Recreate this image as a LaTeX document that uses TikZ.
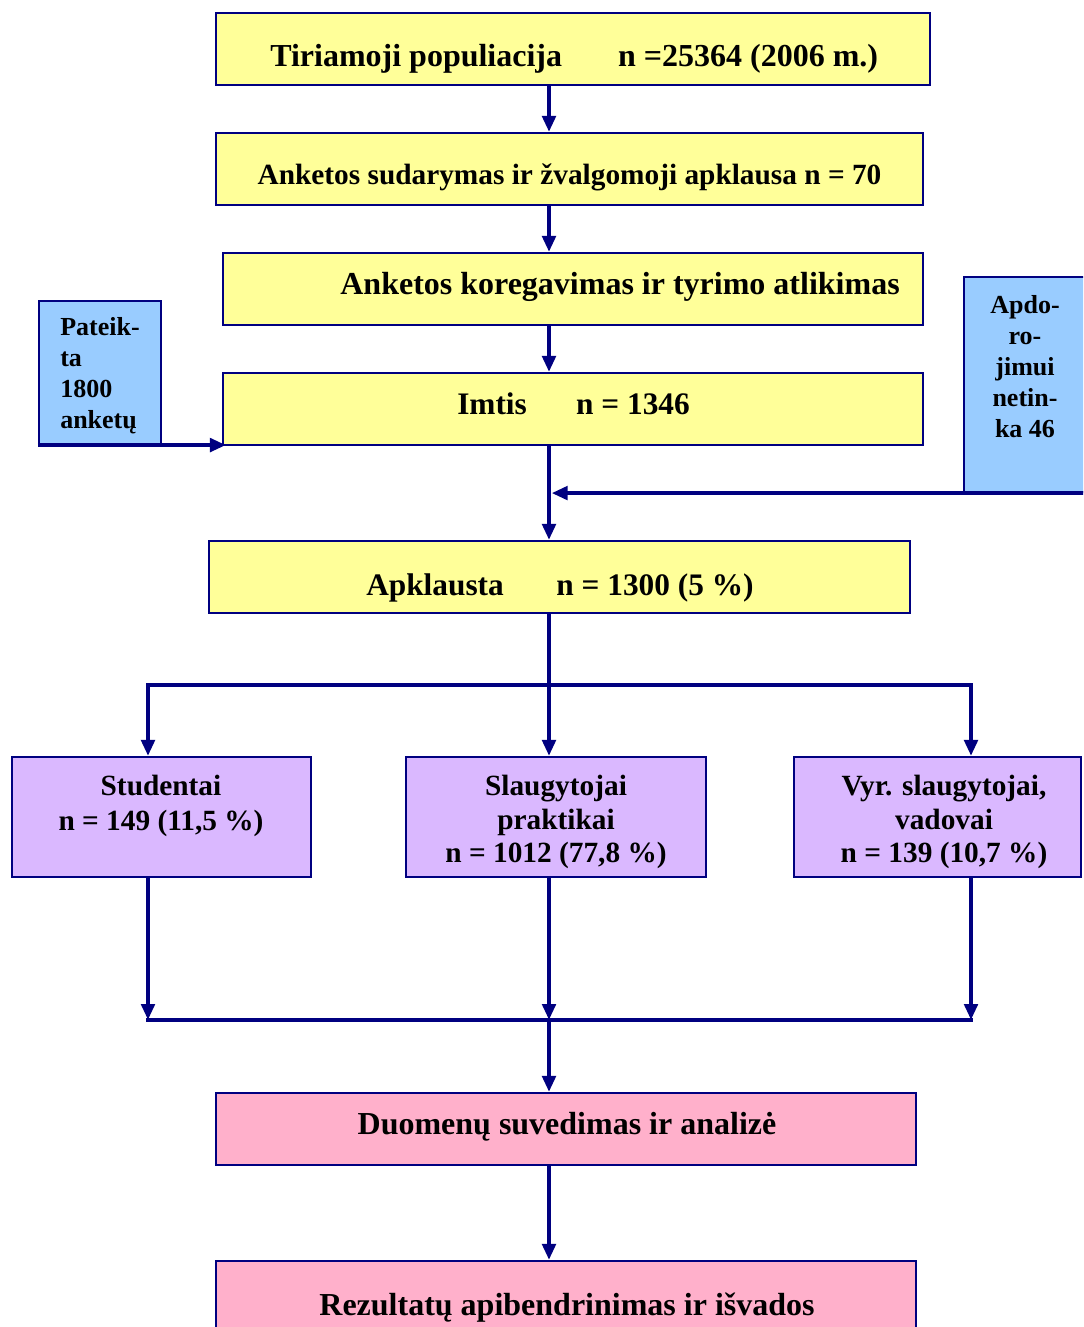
\documentclass[tikz,border=0pt]{standalone}
\usepackage{fontspec}
\setmainfont{Liberation Serif}
\usetikzlibrary{arrows.meta,fit}
\definecolor{navy}{HTML}{000080}
\definecolor{yel}{HTML}{FFFF99}
\definecolor{sky}{HTML}{99CCFF}
\definecolor{lav}{HTML}{DAB8FF}
\definecolor{rose}{HTML}{FFB0CB}
\tikzset{
  box/.style={draw=navy, line width=1.6pt, inner sep=0pt},
  ybox/.style={box, fill=yel},
  bbox/.style={box, fill=sky},
  pbox/.style={box, fill=lav},
  rbox/.style={box, fill=rose},
  conn/.style={draw=navy, line width=3pt},
  hconn/.style={conn, line cap=rect},
  arr/.style={conn, -{Triangle[length=12pt,width=10pt]}},
  txt/.style={inner sep=0pt, anchor=base, font=\bfseries\fontsize{23.5}{28}\selectfont},
  btxt/.style={txt, font=\bfseries\fontsize{24}{28}\selectfont},
  ptxt/.style={txt, font=\bfseries\fontsize{22}{26}\selectfont},
  rtxt/.style={txt, font=\bfseries\fontsize{24}{28}\selectfont},
  stxt/.style={txt, font=\bfseries\fontsize{19.5}{23}\selectfont},
}
\begin{document}
\begin{tikzpicture}[x=0.75pt,y=-0.75pt]
\useasboundingbox (0,0) rectangle (1083,1327);
\fill[white] (0,0) rectangle (1083,1327);
\clip (0,0) rectangle (1083,1327);
\coordinate (spine) at (549,0);

% main boxes
\node[ybox, fit={(216,13) (930,85)}] (b1) {};
\node[ybox, fit={(216,133) (923,205)}] (b2) {};
\node[ybox, fit={(223,253) (923,325)}] (b3) {};
\node[ybox, fit={(223,373) (923,445)}] (b4) {};
\node[ybox, fit={(209,541) (910,613)}] (b5) {};
\node[bbox, fit={(39,301) (161,444)}] (pat) {};
\node[bbox, fit={(964,277) (1095,492)}] (apd) {};
\node[pbox, fit={(12,757) (311,877)}] (stu) {};
\node[pbox, fit={(406,757) (706,877)}] (slg) {};
\node[pbox, fit={(794,757) (1081,877)}] (vyr) {};
\node[rbox, fit={(216,1093) (916,1165)}] (duo) {};
\node[rbox, fit={(216,1261) (916,1345)}] (rez) {};

% texts
\node[btxt, anchor=base west] (t1) at (270,67) {Tiriamoji populiacija\hspace{42pt}n =25364 (2006 m.)};
\node[ptxt] (t2) at (569.5,185) {Anketos sudarymas ir žvalgomoji apklausa n = 70};
\node[btxt, anchor=base east] (t3) at (900,294) {Anketos koregavimas ir tyrimo atlikimas};
\node[txt, anchor=base west] (t4) at (457,414) {Imtis\hspace{37pt}n = 1346};
\node[txt, anchor=base west] (t5) at (366,595) {Apklausta\hspace{39.5pt}n = 1300 (5 \%)};

\node[stxt, anchor=base west] (p1) at (60,335) {Pateik-};
\node[stxt, anchor=base west] (p2) at (60,366) {ta};
\node[stxt, anchor=base west] (p3) at (60,397) {1800};
\node[stxt, anchor=base west] (p4) at (60,428) {anketų};

\node[stxt] (a1) at (1025,313) {Apdo-};
\node[stxt] (a2) at (1025,344) {ro-};
\node[stxt] (a3) at (1025,375) {jimui};
\node[stxt] (a4) at (1025,406) {netin-};
\node[stxt] (a5) at (1025,437) {ka 46};

\node[ptxt] (s1) at (161,795) {Studentai};
\node[ptxt] (s2) at (161,830) {n = 149 (11,5 \%)};
\node[ptxt] (g1) at (556,795) {Slaugytojai};
\node[ptxt] (g2) at (556,829) {praktikai};
\node[ptxt] (g3) at (556,862) {n = 1012 (77,8 \%)};
\node[ptxt] (v1) at (944,795) {Vyr. slaugytojai,};
\node[ptxt] (v2) at (944,829) {vadovai};
\node[ptxt] (v3) at (944,862) {n = 139 (10,7 \%)};

\node[rtxt] (d1) at (567,1134) {Duomenų suvedimas ir analizė};
\node[rtxt] (r1) at (567,1315) {Rezultatų apibendrinimas ir išvados};

% connectors
\draw[arr] (b1.south -| spine) -- (b2.north -| spine);
\draw[arr] (b2.south -| spine) -- (b3.north -| spine);
\draw[arr] (b3.south -| spine) -- (b4.north -| spine);
\draw[arr] (b4.south -| spine) -- (b5.north -| spine);
\draw[arr] (pat.south west) -- ([xshift=3pt]pat.south west -| b4.west);
\draw[arr] (apd.south east) -- ([xshift=2pt]apd.south east -| spine);

\coordinate (fl) at (148,685);
\coordinate (fm) at (549,685);
\coordinate (fr) at (971,685);
\draw[conn] (b5.south -| spine) -- (fm);
\draw[hconn] (fl) -- (fr);
\draw[arr] (fl) -- (fl |- stu.north);
\draw[arr] (fm) -- (fm |- slg.north);
\draw[arr] (fr) -- (fr |- vyr.north);

\coordinate (jl) at (148,1020);
\coordinate (jm) at (549,1020);
\coordinate (jr) at (971,1020);
\draw[hconn] (jl) -- (jr);
\draw[arr] (jl |- stu.south) -- (jl);
\draw[arr] (jm |- slg.south) -- (jm);
\draw[arr] (jr |- vyr.south) -- (jr);
\draw[arr] (jm) -- (jm |- duo.north);
\draw[arr] (duo.south -| spine) -- (rez.north -| spine);
\end{tikzpicture}
\end{document}
